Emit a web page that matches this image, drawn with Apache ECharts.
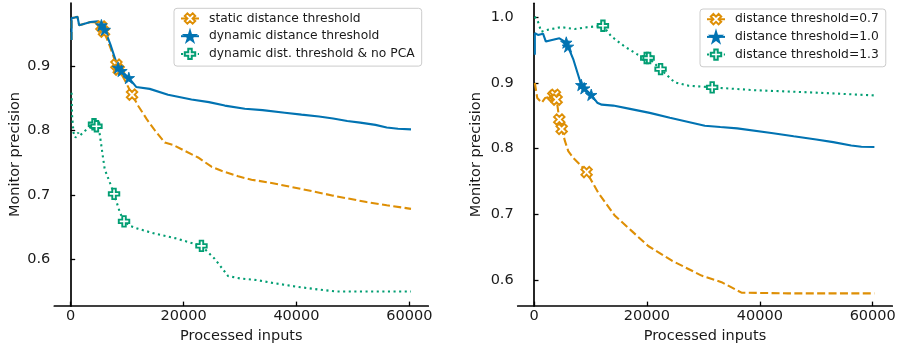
<!DOCTYPE html>
<html>
<head>
<meta charset="utf-8">
<script src="https://cdn.jsdelivr.net/npm/echarts@6/dist/echarts.min.js"></script>
<style>
  html, body { margin: 0; padding: 0; background: #fff; }
  #chart { width: 904px; height: 349px; }
</style>
</head>
<body>
<div id="chart"></div>
<script>
// ---- left panel ----
const leftStaticX = [150, 150, 250, 700, 1000, 1200, 1500, 2300, 3500, 4800, 5440, 5900, 7000, 8100, 8510, 9500, 10870, 12000, 13500, 15000, 16670, 18140, 20210, 22570, 24950, 26720, 29670, 32040, 35590, 40900, 46500, 52430, 56000, 60300];
const leftStaticY = [0.941, 0.975, 0.972, 0.976, 0.973, 0.977, 0.964, 0.966, 0.969, 0.968, 0.962, 0.954, 0.93, 0.9026, 0.895, 0.88, 0.856, 0.838, 0.8176, 0.7995, 0.7816, 0.778, 0.7686, 0.7584, 0.744, 0.7377, 0.729, 0.7238, 0.7187, 0.7094, 0.699, 0.689, 0.684, 0.6785];
const leftStaticMarks = [10, 11, 13, 14, 16];

const leftDynX = [150, 150, 250, 700, 1000, 1200, 1500, 2300, 3500, 4800, 5440, 6030, 7000, 8390, 8990, 10300, 11600, 14000, 17250, 21400, 24500, 27300, 30850, 34000, 37940, 40900, 44000, 46500, 49000, 51300, 54000, 56000, 58000, 60300];
const leftDynY = [0.941, 0.975, 0.972, 0.976, 0.973, 0.977, 0.964, 0.966, 0.969, 0.970, 0.964, 0.957, 0.935, 0.898, 0.893, 0.882, 0.868, 0.865, 0.856, 0.8485, 0.8444, 0.839, 0.834, 0.832, 0.828, 0.825, 0.822, 0.819, 0.815, 0.8125, 0.809, 0.805, 0.803, 0.802];
const leftDynMarks = [10, 11, 13, 14, 15];

const leftNoPcaX = [150, 250, 500, 830, 1300, 1600, 2480, 3370, 4130, 4560, 5140, 5440, 5730, 6030, 6910, 7680, 8690, 9450, 10500, 11940, 14900, 18440, 23170, 25500, 27890, 30000, 33000, 36000, 40000, 44000, 47000, 52000, 56000, 60300];
const leftNoPcaY = [0.859, 0.823, 0.797, 0.789, 0.797, 0.792, 0.7995, 0.805, 0.81, 0.807, 0.795, 0.776, 0.758, 0.74, 0.72, 0.7017, 0.6734, 0.659, 0.652, 0.6476, 0.64, 0.633, 0.621, 0.601, 0.574, 0.5703, 0.5677, 0.563, 0.5575, 0.553, 0.55, 0.55, 0.55, 0.55];
const leftNoPcaMarks = [8, 9, 15, 17, 22];

// ---- right panel ----
const rightT07X = [150, 580, 1360, 1950, 3420, 3700, 4010, 4480, 4900, 5490, 6070, 6960, 8140, 9320, 11380, 14340, 17290, 20230, 24370, 29680, 33220, 36760, 45000, 52000, 60300];
const rightT07Y = [0.9, 0.877, 0.870, 0.877, 0.880, 0.882, 0.8747, 0.8444, 0.830, 0.8115, 0.7964, 0.786, 0.776, 0.7645, 0.733, 0.698, 0.675, 0.652, 0.63, 0.607, 0.597, 0.581, 0.58, 0.58, 0.58];
const rightT07Marks = [4, 5, 6, 7, 8, 13];

const rightT10X = [150, 150, 700, 1600, 2100, 3000, 4500, 5720, 6020, 7000, 8370, 8900, 10140, 11200, 12000, 14030, 17000, 20500, 24070, 30260, 33000, 36000, 42050, 46000, 50000, 53000, 56190, 58000, 60300];
const rightT10Y = [0.943, 0.976, 0.973, 0.975, 0.963, 0.965, 0.968, 0.9615, 0.9555, 0.935, 0.897, 0.892, 0.882, 0.870, 0.867, 0.8656, 0.8606, 0.8545, 0.847, 0.835, 0.833, 0.831, 0.824, 0.819, 0.814, 0.81, 0.805, 0.803, 0.8025];
const rightT10Marks = [7, 8, 10, 11, 12];

const rightT13X = [120, 710, 1290, 2480, 4830, 7200, 9560, 12210, 13680, 16050, 18400, 19880, 20300, 22420, 24900, 27310, 31560, 39120, 45000, 50920, 60350];
const rightT13Y = [1.001, 0.993, 0.978, 0.981, 0.985, 0.982, 0.985, 0.987, 0.971, 0.9555, 0.943, 0.938, 0.938, 0.921, 0.901, 0.896, 0.8933, 0.889, 0.887, 0.885, 0.881];
const rightT13Marks = [7, 11, 12, 13, 16];

const xTicks = [0, 20000, 40000, 60000];
const leftYTicks = [0.6, 0.7, 0.8, 0.9];
const rightYTicks = [0.6, 0.7, 0.8, 0.9, 1.0];

const ORANGE = '#de8f05', BLUE = '#0173b2', GREEN = '#029e73';
const FONT = '"DejaVu Sans", sans-serif';
const SYM_X = 'path://M1.414,-2.828L2.828,-1.414L1.414,0L2.828,1.414L1.414,2.828L0,1.414L-1.414,2.828L-2.828,1.414L-1.414,0L-2.828,-1.414L-1.414,-2.828L0,-1.414Z';
const SYM_P = 'path://M-1,-3L1,-3L1,-1L3,-1L3,1L1,1L1,3L-1,3L-1,1L-3,1L-3,-1L-1,-1Z';
const SYM_STAR = 'path://M0,-1L0.2245,-0.309L0.951,-0.309L0.3633,0.118L0.588,0.809L0,0.382L-0.588,0.809L-0.3633,0.118L-0.951,-0.309L-0.2245,-0.309Z';

function points(xs, ys, marks) {
  return xs.map((x, i) => marks.indexOf(i) >= 0 ? [x, ys[i]] : { value: [x, ys[i]], symbol: 'none' });
}

function line(name, xs, ys, marks, color, type, symbol, size, hollow, gi) {
  return {
    name, type: 'line', xAxisIndex: gi, yAxisIndex: gi,
    data: points(xs, ys, marks),
    symbol, symbolSize: size, showSymbol: true,
    lineStyle: { color, width: 2.1, type },
    itemStyle: { color: hollow ? '#fff' : color, borderColor: color, borderWidth: hollow ? 1.9 : 0.9 },
    emphasis: { disabled: true },
    z: 2
  };
}

function xAxis(gi, min, max) {
  return {
    type: 'value', gridIndex: gi, min, max,
    name: 'Processed inputs', nameLocation: 'middle', nameGap: 21,
    nameTextStyle: { fontFamily: FONT, fontSize: 14.5, color: '#1a1a1a' },
    axisLine: { show: true, lineStyle: { color: '#000', width: 1.7 } },
    axisTick: { show: true, inside: true, length: 4.5, lineStyle: { color: '#000', width: 1.3 }, customValues: xTicks },
    axisLabel: { fontFamily: FONT, fontSize: 14.5, color: '#1a1a1a', margin: 3, customValues: xTicks, formatter: v => String(v) },
    splitLine: { show: false }
  };
}

function yAxis(gi, min, max, ticks, gap) {
  return {
    type: 'value', gridIndex: gi, min, max,
    name: 'Monitor precision', nameLocation: 'middle', nameGap: gap, nameRotate: 90,
    nameTextStyle: { fontFamily: FONT, fontSize: 14.5, color: '#1a1a1a' },
    axisLine: { show: true, lineStyle: { color: '#000', width: 1.7 } },
    axisTick: { show: true, inside: true, length: 4.5, lineStyle: { color: '#000', width: 1.3 }, customValues: ticks },
    axisLabel: { fontFamily: FONT, fontSize: 14.5, color: '#1a1a1a', margin: 4, customValues: ticks, formatter: v => v.toFixed(1) },
    splitLine: { show: false }
  };
}

function legend(names, left, top) {
  return {
    data: names, orient: 'vertical', left, top,
    padding: [4, 7, 6, 6], itemGap: 5.3, itemWidth: 18, itemHeight: 13,
    backgroundColor: 'rgba(255,255,255,0.8)', borderColor: '#cccccc', borderWidth: 1, borderRadius: 3,
    textStyle: { fontFamily: FONT, fontSize: 12.3, color: '#1a1a1a', padding: [0, 0, 0, 5] },
    selectedMode: false
  };
}

const chart = echarts.init(document.getElementById('chart'), null, { renderer: 'canvas' });
chart.setOption({
  animation: false,
  backgroundColor: '#fff',
  grid: [
    { left: 54.3, top: 3, width: 374, height: 304.7 },
    { left: 517.7, top: 3.3, width: 374.6, height: 303.7 }
  ],
  xAxis: [xAxis(0, -2906, 63365), xAxis(1, -2888, 63470)],
  yAxis: [yAxis(0, 0.5273, 0.9985, leftYTicks, 32), yAxis(1, 0.5606, 1.0212, rightYTicks, 34)],
  legend: [
    legend(['static distance threshold', 'dynamic distance threshold', 'dynamic dist. threshold & no PCA'], 174, 8.3),
    legend(['distance threshold=0.7', 'distance threshold=1.0', 'distance threshold=1.3'], 700, 9)
  ],
  series: [
    line('static distance threshold', leftStaticX, leftStaticY, leftStaticMarks, ORANGE, [8, 3.4], SYM_X, 10.5, true, 0),
    line('dynamic distance threshold', leftDynX, leftDynY, leftDynMarks, BLUE, 'solid', SYM_STAR, 11.5, false, 0),
    line('dynamic dist. threshold & no PCA', leftNoPcaX, leftNoPcaY, leftNoPcaMarks, GREEN, [2.1, 3.5], SYM_P, 10.5, true, 0),
    line('distance threshold=0.7', rightT07X, rightT07Y, rightT07Marks, ORANGE, [8, 3.4], SYM_X, 10.5, true, 1),
    line('distance threshold=1.0', rightT10X, rightT10Y, rightT10Marks, BLUE, 'solid', SYM_STAR, 11.5, false, 1),
    line('distance threshold=1.3', rightT13X, rightT13Y, rightT13Marks, GREEN, [2.1, 3.5], SYM_P, 10.5, true, 1)
  ]
});
</script>
</body>
</html>
